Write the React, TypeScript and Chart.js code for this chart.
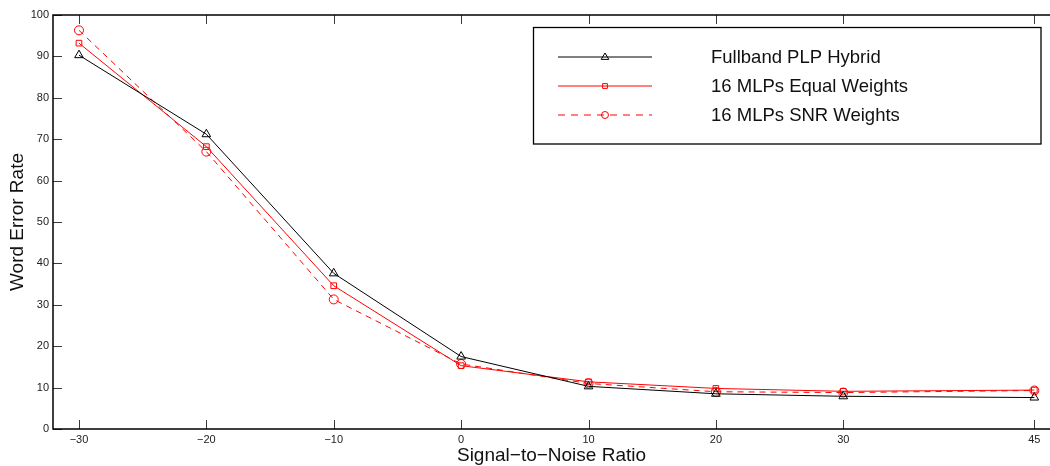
import React, { useEffect, useRef } from 'react';
import { Chart, registerables } from 'chart.js';

Chart.register(...registerables);

const snrValues = [-30, -20, -10, 0, 10, 20, 30, 45];
const fullbandPLP = [90.3, 71.2, 37.6, 17.5, 10.3, 8.5, 7.9, 7.6];
const equalWeights = [93.2, 68.2, 34.6, 15.3, 11.4, 9.8, 9.1, 9.4];
const snrWeights = [96.3, 67.0, 31.3, 15.7, 11.0, 9.0, 8.8, 9.3];
const xTickValues = [-30, -20, -10, 0, 10, 20, 30, 45];
const yTickValues = [0, 10, 20, 30, 40, 50, 60, 70, 80, 90, 100];
const seriesLabels = ['Fullband PLP Hybrid', '16 MLPs Equal Weights', '16 MLPs SNR Weights'];
const xTitle = 'Signal\u2212to\u2212Noise Ratio';
const yTitle = 'Word Error Rate';

const FONT = '"Liberation Sans", Arial, Helvetica, sans-serif';

const seriesStyles = [
  { color: '#000000', dash: [] as number[], marker: 'triangle', radius: 5 },
  { color: '#ff0000', dash: [] as number[], marker: 'rect', radius: 4 },
  { color: '#ff0000', dash: [6, 5], marker: 'circle', radius: 4.5 },
];

function drawMarker(ctx: CanvasRenderingContext2D, kind: string, x: number, y: number, r: number, color: string) {
  ctx.save();
  ctx.setLineDash([]);
  ctx.strokeStyle = color;
  ctx.lineWidth = 1;
  ctx.beginPath();
  if (kind === 'triangle') {
    ctx.moveTo(x, y - r);
    ctx.lineTo(x + r * 0.95, y + r * 0.6);
    ctx.lineTo(x - r * 0.95, y + r * 0.6);
    ctx.closePath();
  } else if (kind === 'rect') {
    ctx.rect(x - r * 0.8, y - r * 0.8, r * 1.6, r * 1.6);
  } else {
    ctx.arc(x, y, r, 0, Math.PI * 2);
  }
  ctx.stroke();
  ctx.restore();
}

const framePlugin = {
  id: 'frame',
  afterDraw(chart: any) {
    const ctx: CanvasRenderingContext2D = chart.ctx;
    const { left, right, top, bottom } = chart.chartArea;
    const xs = chart.scales.x;
    const ys = chart.scales.y;
    ctx.save();
    ctx.strokeStyle = '#3a3a3a';
    ctx.lineWidth = 1;
    ctx.setLineDash([]);
    const tl = 9;
    xTickValues.forEach((v) => {
      const px = Math.round(xs.getPixelForValue(v)) + 0.5;
      ctx.beginPath();
      ctx.moveTo(px, bottom);
      ctx.lineTo(px, bottom - tl);
      ctx.moveTo(px, top);
      ctx.lineTo(px, top + tl);
      ctx.stroke();
    });
    yTickValues.forEach((v) => {
      const py = Math.round(ys.getPixelForValue(v)) + 0.5;
      ctx.beginPath();
      ctx.moveTo(left, py);
      ctx.lineTo(left + tl, py);
      ctx.stroke();
    });
    ctx.strokeStyle = '#000';
    ctx.lineWidth = 1.5;
    ctx.beginPath();
    ctx.moveTo(right, top);
    ctx.lineTo(left, top);
    ctx.lineTo(left, bottom);
    ctx.lineTo(right, bottom);
    ctx.stroke();

    // legend
    const bx = 533.5, by = 27.5, bw = 507.5, bh = 116.5;
    ctx.fillStyle = '#fff';
    ctx.fillRect(bx, by, bw, bh);
    ctx.strokeStyle = '#000';
    ctx.lineWidth = 1.3;
    ctx.strokeRect(bx, by, bw, bh);
    const rows = [57, 86, 115];
    seriesLabels.forEach((label, i) => {
      const st = seriesStyles[i];
      const y = rows[i];
      ctx.strokeStyle = st.color;
      ctx.lineWidth = 1;
      ctx.setLineDash(st.dash.length ? [7, 6] : []);
      ctx.beginPath();
      ctx.moveTo(558, y);
      ctx.lineTo(652, y);
      ctx.stroke();
      ctx.setLineDash([]);
      drawMarker(ctx, st.marker, 605, y, st.radius - 1, st.color);
      ctx.fillStyle = '#111';
      ctx.font = `18.5px ${FONT}`;
      ctx.textBaseline = 'middle';
      ctx.textAlign = 'left';
      ctx.fillText(label, 711, y + 1);
    });
    ctx.restore();
  },
};

export default function App() {
  const ref = useRef<HTMLCanvasElement | null>(null);
  useEffect(() => {
    document.body.style.margin = '0';
    const canvas = ref.current!;
    const allSeries = [fullbandPLP, equalWeights, snrWeights];
    const chart = new Chart(canvas, {
      type: 'line',
      data: {
        datasets: allSeries.map((vals, i) => ({
          label: seriesLabels[i],
          data: snrValues.map((x, j) => ({ x, y: vals[j] })),
          borderColor: seriesStyles[i].color,
          borderWidth: 1,
          borderDash: seriesStyles[i].dash,
          pointStyle: seriesStyles[i].marker as any,
          pointRadius: seriesStyles[i].radius,
          pointBorderWidth: 1,
          pointBorderColor: seriesStyles[i].color,
          pointBackgroundColor: 'rgba(0,0,0,0)',
          fill: false,
          tension: 0,
          clip: false as any,
        })),
      },
      options: {
        responsive: false,
        animation: false,
        layout: { autoPadding: false, padding: { top: 15, right: 0, left: 0, bottom: 0 } },
        plugins: { legend: { display: false }, tooltip: { enabled: false } },
        scales: {
          x: {
            type: 'linear',
            min: -32.04,
            max: 46.23,
            grid: { display: false, drawTicks: false },
            border: { display: false },
            afterBuildTicks: (s: any) => {
              s.ticks = xTickValues.map((v) => ({ value: v }));
            },
            afterFit: (s: any) => {
              s.height = 37;
              s.paddingLeft = 0;
              s.paddingRight = 0;
            },
            ticks: {
              padding: 4,
              maxRotation: 0,
              autoSkip: false,
              color: '#222',
              font: { family: FONT, size: 11 },
              callback: (v: any) => (Number(v) < 0 ? '\u2212' + Math.abs(Number(v)) : String(v)),
            },
            title: {
              display: true,
              text: xTitle,
              color: '#111',
              font: { family: FONT, size: 19 },
              padding: { top: 0, bottom: -1 },
            },
          },
          y: {
            type: 'linear',
            min: 0,
            max: 100,
            grid: { display: false, drawTicks: false },
            border: { display: false },
            afterBuildTicks: (s: any) => {
              s.ticks = yTickValues.map((v) => ({ value: v }));
            },
            afterFit: (s: any) => {
              s.width = 53;
              s.paddingTop = 0;
              s.paddingBottom = 0;
            },
            ticks: {
              padding: 4,
              color: '#222',
              font: { family: FONT, size: 11 },
            },
            title: {
              display: true,
              text: yTitle,
              color: '#111',
              font: { family: FONT, size: 19 },
              padding: { top: 6, bottom: 0 },
            },
          },
        },
      },
      plugins: [framePlugin],
    });
    return () => chart.destroy();
  }, []);
  return (
    <div style={{ width: 1050, height: 466, background: '#fff' }}>
      <canvas ref={ref} width={1050} height={466} style={{ display: 'block' }} />
    </div>
  );
}
